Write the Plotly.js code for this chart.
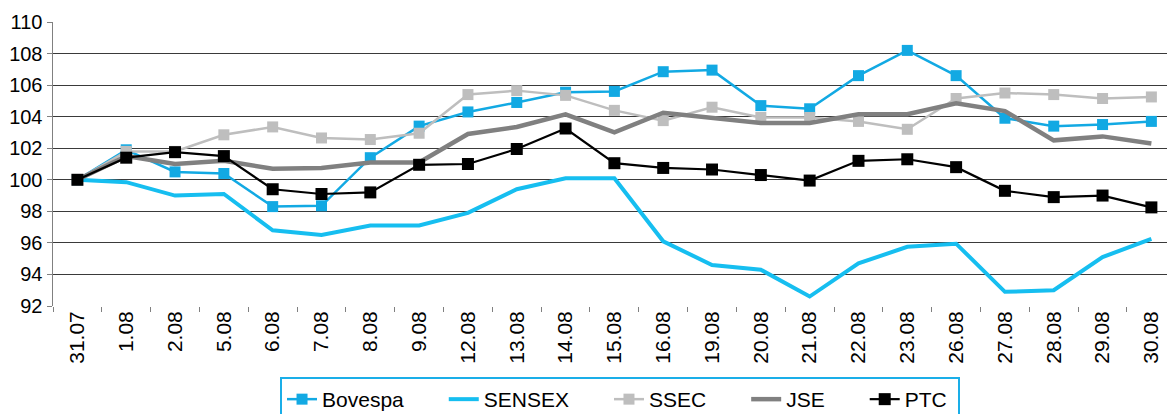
<!DOCTYPE html>
<html>
<head>
<meta charset="utf-8">
<script src="https://cdn.plot.ly/plotly-3.0.1.min.js"></script>
<style>
html,body{margin:0;padding:0;background:#fff;overflow:hidden;}
#chart{width:1167px;height:414px;}
</style>
</head>
<body>
<div id="chart"></div>
<script>
const dates = ["31.07","1.08","2.08","5.08","6.08","7.08","8.08","9.08","12.08","13.08","14.08","15.08","16.08","19.08","20.08","21.08","22.08","23.08","26.08","27.08","28.08","29.08","30.08"];

const bovespa = [100,101.9,100.5,100.4,98.3,98.35,101.4,103.4,104.3,104.9,105.55,105.6,106.85,106.95,104.7,104.5,106.6,108.2,106.6,103.9,103.4,103.5,103.7];
const sensex  = [100,99.85,99.0,99.1,96.8,96.5,97.1,97.1,97.9,99.4,100.1,100.1,96.1,94.6,94.3,92.6,94.7,95.75,95.95,92.9,93.0,95.1,96.25];
const ssec    = [100,101.8,101.8,102.85,103.35,102.65,102.55,102.95,105.4,105.65,105.35,104.4,103.75,104.6,103.95,103.95,103.7,103.2,105.15,105.5,105.4,105.15,105.25];
const jse     = [100,101.5,101.0,101.2,100.7,100.75,101.1,101.1,102.9,103.35,104.15,103.0,104.25,103.9,103.6,103.6,104.15,104.15,104.85,104.35,102.5,102.75,102.3];
const ptc     = [100,101.4,101.75,101.5,99.4,99.1,99.2,100.95,101.0,101.95,103.25,101.05,100.75,100.65,100.3,99.95,101.2,101.3,100.8,99.3,98.9,99.0,98.25];

const seriesNames = ["Bovespa","SENSEX","SSEC","JSE","PTC"];
const pad = "\u00A0\u00A0\u00A0\u00A0\u00A0\u00A0";

const traces = [
  {name:seriesNames[0]+pad, x:dates, y:bovespa, type:"scatter", mode:"lines+markers",
   line:{color:"#12A9E3", width:2.5}, marker:{symbol:"square", size:11, color:"#12A9E3"}},
  {name:seriesNames[1]+pad, x:dates, y:sensex, type:"scatter", mode:"lines",
   line:{color:"#16BEF0", width:4}},
  {name:seriesNames[2]+pad, x:dates, y:ssec, type:"scatter", mode:"lines+markers",
   line:{color:"#BEBEBE", width:2.5}, marker:{symbol:"square", size:11, color:"#BEBEBE"}},
  {name:seriesNames[3]+pad, x:dates, y:jse, type:"scatter", mode:"lines",
   line:{color:"#808080", width:4.5}},
  {name:seriesNames[4]+"\u00A0", x:dates, y:ptc, type:"scatter", mode:"lines+markers",
   line:{color:"#000000", width:2.2}, marker:{symbol:"square", size:12, color:"#000000"}}
];

const layout = {
  width:1167, height:414,
  margin:{l:53, r:0, t:22, b:108, autoexpand:false},
  paper_bgcolor:"#fff", plot_bgcolor:"#fff",
  font:{family:"Liberation Sans, Arial, sans-serif", size:20, color:"#000"},
  showlegend:true,
  xaxis:{
    type:"category", range:[-0.5, 22.32], automargin:false,
    tickangle:-90, tickson:"boundaries",
    ticks:"outside", ticklen:5, tickcolor:"#808080",
    showline:false, showgrid:false, zeroline:false,
    tickfont:{size:21, color:"#000"}
  },
  yaxis:{
    range:[92,110], dtick:2, tick0:92, automargin:false,
    ticks:"outside", ticklen:5, tickcolor:"#808080",
    showline:true, linecolor:"#808080", linewidth:1.5,
    showgrid:true, gridcolor:"#3a3a3a", gridwidth:1,
    zeroline:false,
    tickfont:{size:20, color:"#000"}
  },
  legend:{
    orientation:"h", x:0.509, xanchor:"center", y:-0.25, yanchor:"top",
    bordercolor:"#1AAEE8", borderwidth:2, bgcolor:"#fff",
    font:{size:21, color:"#000"}
  }
};

Plotly.newPlot("chart", traces, layout, {displayModeBar:false, staticPlot:true});
</script>
</body>
</html>
